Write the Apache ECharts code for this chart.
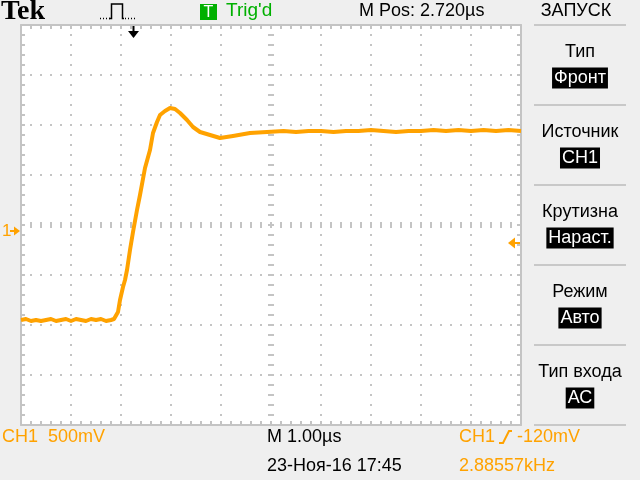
<!DOCTYPE html>
<html><head><meta charset="utf-8">
<script src="https://cdn.jsdelivr.net/npm/echarts@6/dist/echarts.min.js"></script>
<style>html,body{margin:0;padding:0;background:#efefef}#c{width:640px;height:480px}</style>
</head><body><div id="c"></div>
<script>
// Time in µs relative to the screen centre (1.00 µs/div, 10 divisions)
const timeUs = [
  -5.00,-4.90,-4.80,-4.70,-4.60,-4.50,-4.40,-4.30,-4.20,-4.10,-4.00,-3.90,-3.80,-3.70,-3.60,-3.50,-3.40,-3.30,-3.20,-3.14,
  -3.10,-3.06,-3.02,-2.96,-2.92,-2.88,-2.82,-2.76,-2.68,-2.62,-2.52,-2.42,-2.36,-2.28,-2.22,-2.12,-2.02,-1.92,-1.82,-1.68,
  -1.56,-1.42,-1.22,-1.02,-0.76,-0.42,-0.08,0.25,0.50,0.75,1.00,1.25,1.50,1.75,2.00,2.25,2.50,2.75,3.00,3.25,3.50,3.75,
  4.00,4.25,4.50,4.75,5.00
];
// CH1 voltage in V relative to the screen centre (500 mV/div)
const ch1V = [
  -0.95,-0.94,-0.96,-0.95,-0.96,-0.95,-0.94,-0.96,-0.95,-0.94,-0.96,-0.94,-0.95,-0.96,-0.94,-0.95,-0.94,-0.96,-0.95,-0.94,
  -0.93,-0.87,-0.75,-0.62,-0.55,-0.45,-0.25,-0.07,0.15,0.30,0.57,0.75,0.92,1.03,1.10,1.14,1.17,1.16,1.12,1.05,
  0.98,0.93,0.90,0.87,0.89,0.92,0.93,0.94,0.93,0.94,0.94,0.93,0.94,0.94,0.95,0.94,0.93,0.94,0.94,0.95,0.94,0.95,
  0.94,0.95,0.94,0.95,0.94
];
// Side menu (title, highlighted value)
const menuTitles = ['Тип','Источник','Крутизна','Режим','Тип входа'];
const menuValues = ['Фронт','СН1','Нараст.','Авто','АС'];

const ORANGE = '#ffa200', GRID = '#c4c4c4', GREEN = '#00b000';
const F = '"Liberation Sans Narrow","Liberation Sans",sans-serif';

function txt(x, y, s, color, size, align, extra) {
  const st = Object.assign({
    text: s, x: 0, y: 0, fill: color, font: size + 'px ' + F,
    align: align, textAlign: align, verticalAlign: 'middle', textVerticalAlign: 'middle'
  }, extra || {});
  return { type: 'text', x: x, y: y, silent: true, style: st };
}
function hline(x1, x2, y, color, w) {
  return { type: 'line', silent: true, shape: { x1: x1, y1: y, x2: x2, y2: y }, style: { stroke: color, lineWidth: w } };
}

const g = [];
// top bar
g.push({ type: 'text', x: 1, y: 12, silent: true, style: { text: 'Tek', fill: '#000', font: 'bold 28px "Liberation Serif",serif', align: 'left', textAlign: 'left', verticalAlign: 'middle', textVerticalAlign: 'middle' } });
g.push({ type: 'polyline', silent: true, shape: { points: [[100, 18.5], [110, 18.5]] }, style: { stroke: '#000', lineWidth: 1.5, lineDash: [1, 2] } });
g.push({ type: 'polyline', silent: true, shape: { points: [[109, 18.5], [111.5, 18.5], [111.5, 4], [122.5, 4], [122.5, 18.5], [124, 18.5]] }, style: { stroke: '#000', lineWidth: 1.5, fill: null } });
g.push({ type: 'polyline', silent: true, shape: { points: [[125, 18.5], [136, 18.5]] }, style: { stroke: '#000', lineWidth: 1.5, lineDash: [1, 2] } });
g.push({ type: 'rect', silent: true, shape: { x: 200, y: 4, width: 17, height: 16 }, style: { fill: GREEN } });
g.push(txt(208.5, 12.5, 'T', '#fff', 16, 'center'));
g.push(txt(226, 11, "Trig'd", GREEN, 19, 'left'));
g.push(txt(359, 11, 'M Pos: 2.720µs', '#000', 18, 'left'));
g.push(txt(576, 11, 'ЗАПУСК', '#000', 18, 'center'));
// trigger position marker
g.push({ type: 'line', silent: true, shape: { x1: 133.5, y1: 25, x2: 133.5, y2: 33 }, style: { stroke: '#000', lineWidth: 2 } });
g.push({ type: 'polygon', silent: true, shape: { points: [[128, 31], [139, 31], [133.5, 38]] }, style: { fill: '#000' } });
// menu
for (let i = 0; i <= 5; i++) g.push(hline(534, 626, 25 + 80 * i, '#c8c8c8', 2));
menuTitles.forEach((t, i) => {
  g.push(txt(580, 52 + 80 * i, t, '#000', 18, 'center'));
  g.push(txt(580, 78 + 80 * i, menuValues[i], '#fff', 18, 'center', { backgroundColor: '#000', padding: [2, 2, 1, 2] }));
});
// ground marker
g.push(txt(2, 231, '1', ORANGE, 17, 'left'));
g.push({ type: 'line', silent: true, shape: { x1: 10, y1: 231, x2: 16, y2: 231 }, style: { stroke: ORANGE, lineWidth: 2 } });
g.push({ type: 'polygon', silent: true, shape: { points: [[14, 226.5], [20, 231], [14, 235.5]] }, style: { fill: ORANGE } });
// trigger level marker
g.push({ type: 'line', silent: true, shape: { x1: 513, y1: 243, x2: 522, y2: 243 }, style: { stroke: ORANGE, lineWidth: 2 } });
g.push({ type: 'polygon', silent: true, shape: { points: [[508, 243], [515, 237.5], [515, 248.5]] }, style: { fill: ORANGE } });
// bottom text
g.push(txt(2, 437, 'CH1  500mV', ORANGE, 18, 'left'));
g.push(txt(267, 437, 'M 1.00µs', '#000', 18, 'left'));
g.push(txt(267, 466, '23-Ноя-16 17:45', '#000', 18, 'left'));
g.push(txt(459, 437, 'CH1', ORANGE, 18, 'left'));
g.push({ type: 'polyline', silent: true, shape: { points: [[499, 443], [503, 443], [509, 431], [512, 431]] }, style: { stroke: ORANGE, lineWidth: 2, fill: null } });
g.push(txt(517, 437, '-120mV', ORANGE, 18, 'left'));
g.push(txt(459, 466, '2.88557kHz', ORANGE, 18, 'left'));

const axLine = { show: true, onZero: false, lineStyle: { color: GRID, width: 2 } };
const tick = { show: true, inside: true, length: 4, lineStyle: { color: GRID, width: 2 } };
const minor = { show: true, splitNumber: 5, length: 4, lineStyle: { color: GRID, width: 2 } };
const dots = { show: true, lineStyle: { color: GRID, width: 2, type: [2, 8], dashOffset: 1 } };

const chart = echarts.init(document.getElementById('c'), null, { renderer: 'canvas' });
chart.setOption({
  animation: false,
  backgroundColor: '#efefef',
  grid: { left: 21, top: 25, width: 500, height: 400, show: true, backgroundColor: '#ffffff', borderWidth: 0 },
  xAxis: [
    { type: 'value', min: -5, max: 5, interval: 1, position: 'bottom', axisLine: axLine, axisTick: tick, minorTick: minor, axisLabel: { show: false }, splitLine: dots, minorSplitLine: { show: false } },
    { type: 'value', min: -5, max: 5, interval: 1, position: 'top', axisLine: axLine, axisTick: tick, minorTick: minor, axisLabel: { show: false }, splitLine: { show: false } }
  ],
  yAxis: [
    { type: 'value', min: -2, max: 2, interval: 0.5, position: 'left', axisLine: axLine, axisTick: tick, minorTick: minor, axisLabel: { show: false }, splitLine: dots },
    { type: 'value', min: -2, max: 2, interval: 0.5, position: 'right', axisLine: axLine, axisTick: tick, minorTick: minor, axisLabel: { show: false }, splitLine: { show: false } }
  ],
  series: [
    {
      type: 'line', data: [], z: 1, silent: true,
      markLine: {
        silent: true, symbol: 'none', label: { show: false }, animation: false,
        lineStyle: { color: GRID, width: 6, type: [2, 8], dashOffset: 1, cap: 'butt' },
        emphasis: { disabled: true },
        data: [{ yAxis: 0 }, { xAxis: 0 }]
      }
    },
    {
      type: 'line', z: 5, silent: true, showSymbol: false, symbol: 'none',
      data: timeUs.map((t, i) => [t, ch1V[i]]),
      lineStyle: { color: ORANGE, width: 4, join: 'round' }
    }
  ],
  graphic: { elements: g }
});
</script></body></html>
